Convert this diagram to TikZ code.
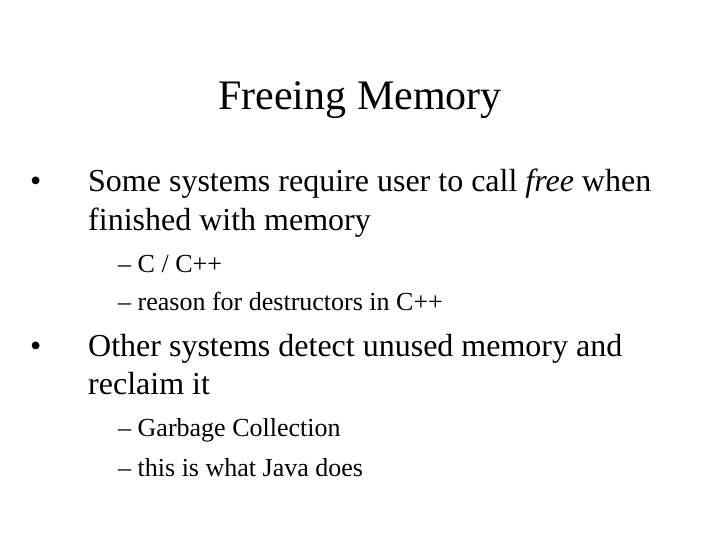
\documentclass[tikz,border=0pt]{standalone}
\usepackage{fontspec}
\setmainfont{Liberation Serif}
\begin{document}
\begin{tikzpicture}[x=1pt,y=-1pt,
  lone/.style={anchor=base west,inner sep=0pt,font=\fontsize{32}{36}\selectfont},
  ltwo/.style={anchor=base west,inner sep=0pt,font=\fontsize{26}{30}\selectfont}]
\useasboundingbox[fill=white] (0,0) rectangle (720,540);
\node[anchor=base,inner sep=0pt,font=\fontsize{42}{48}\selectfont] (title) at (360,110) {Freeing Memory};
\node[lone] (b1) at (30,192) {•};
\node[lone] (t1) at (88,192) {Some systems require user to call \textit{free} when};
\node[lone] (t1b) at (88,230) {finished with memory};
\node[ltwo] (s1) at (118,272) {– C / C++};
\node[ltwo] (s2) at (118,310) {– reason for destructors in C++};
\node[lone] (b2) at (30,356) {•};
\node[lone] (t2) at (88,356) {Other systems detect unused memory and};
\node[lone] (t2b) at (88,394) {reclaim it};
\node[ltwo] (s3) at (118,436) {– Garbage Collection};
\node[ltwo] (s4) at (118,476) {– this is what Java does};
\end{tikzpicture}
\end{document}
